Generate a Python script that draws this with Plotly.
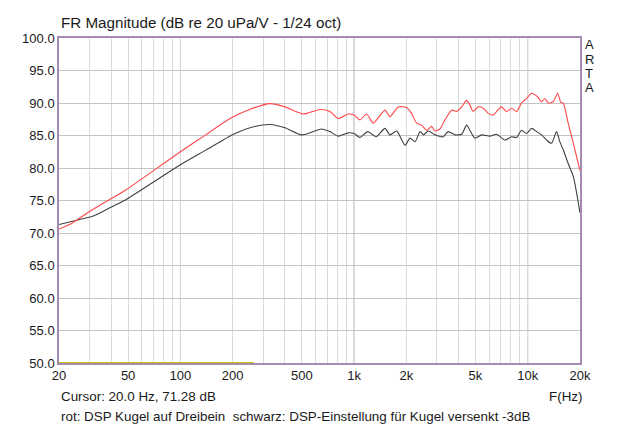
import plotly.graph_objects as go

# ---- data ----
red_f = [20, 23, 30, 40, 49, 70, 100, 140, 193, 250, 328, 400, 510, 636, 726, 811, 926, 1000,
         1081, 1181, 1290, 1506, 1609, 1797, 2007, 2145, 2292, 2449, 2617, 2797, 2922, 3122,
         3337, 3645, 3895, 4162, 4447, 4645, 4856, 5188, 5544, 5924, 6331, 6765, 7070, 7554,
         8072, 8626, 9218, 9849, 10525, 11246, 12018, 12560, 13125, 14030, 14860, 15530,
         16010, 17100, 18700, 20000]
red_db = [70.6, 71.3, 73.3, 75.3, 76.7, 79.6, 82.5, 85.1, 87.6, 89.0, 89.9, 89.4, 88.3, 89.0,
          88.7, 87.6, 88.3, 88.15, 87.4, 88.3, 86.9, 88.9, 87.9, 89.4, 89.3, 88.4, 86.9, 86.6,
          85.8, 86.4, 85.7, 86.0, 87.4, 88.9, 88.7, 89.4, 90.4, 89.7, 88.7, 89.4, 89.2, 88.4,
          88.15, 89.0, 89.4, 88.7, 89.2, 88.7, 90.0, 90.7, 91.5, 91.1, 90.2, 90.7, 90.0, 90.2,
          91.5, 90.05, 90.0, 86.9, 82.8, 79.6]

black_f = [20, 23, 31.5, 40, 49, 70, 100, 140, 202, 260, 328, 400, 499, 650, 726, 811, 926,
           1000, 1081, 1200, 1340, 1506, 1609, 1760, 1965, 2100, 2245, 2400, 2510, 2680, 2922,
           3260, 3480, 3810, 4162, 4447, 4645, 4960, 5430, 6050, 6620, 7390, 8072, 8626, 9218,
           9849, 10525, 11246, 12018, 12840, 13720, 14660, 15300, 16010, 17100, 18300, 20000]
black_db = [71.3, 71.7, 72.6, 74.0, 75.2, 77.85, 80.5, 82.75, 85.2, 86.3, 86.7, 86.2, 85.1,
            86.0, 85.6, 84.9, 85.4, 85.3, 84.7, 85.6, 84.8, 86.1, 85.1, 85.7, 83.5, 84.6, 84.05,
            85.6, 85.1, 85.7, 85.1, 84.8, 85.6, 85.1, 85.2, 86.6, 85.8, 84.6, 85.1, 84.9, 85.2,
            84.3, 84.8, 84.7, 85.8, 85.3, 86.1, 85.6, 85.1, 84.3, 83.8, 85.6, 84.05, 82.8, 80.7,
            78.7, 73.1]

yellow_f = [20, 265]
yellow_db = [50, 50]

grid_f = [20, 30, 40, 50, 60, 70, 80, 90, 100, 200, 300, 400, 500, 600, 700, 800, 900, 1000,
          2000, 3000, 4000, 5000, 6000, 7000, 8000, 9000, 10000, 20000]
label_f = {20: "20", 50: "50", 100: "100", 200: "200", 500: "500", 1000: "1k", 2000: "2k",
           5000: "5k", 10000: "10k", 20000: "20k"}
decades = [100, 1000, 10000]
y_ticks = [50, 55, 60, 65, 70, 75, 80, 85, 90, 95, 100]
side_letters = ["A", "R", "T", "A"]

FONT = "Liberation Sans, Arial, sans-serif"
TXT = "#1a1a1a"
BORDER = "#a68ab0"

fig = go.Figure()
fig.add_trace(go.Scatter(x=yellow_f, y=yellow_db, mode="lines",
                         line=dict(color="#c8c400", width=2), cliponaxis=False,
                         hoverinfo="skip"))
fig.add_trace(go.Scatter(x=black_f, y=black_db, mode="lines",
                         line=dict(color="#404040", width=1.1, shape="spline", smoothing=0.6)))
fig.add_trace(go.Scatter(x=red_f, y=red_db, mode="lines",
                         line=dict(color="#ff4848", width=1.1, shape="spline", smoothing=0.6)))

for d in decades:
    fig.add_shape(type="line", xref="x", yref="paper", x0=d, x1=d, y0=0, y1=1,
                  line=dict(color="#a8a8a8", width=1), layer="below")

fig.update_xaxes(type="log", range=[1.30103, 4.30103],
                 tickvals=grid_f, ticktext=[label_f.get(v, "") for v in grid_f],
                 showgrid=True, gridcolor="#dadada", gridwidth=1,
                 showline=True, mirror=True, linecolor=BORDER, linewidth=1.5,
                 ticks="", tickfont=dict(family=FONT, size=13, color=TXT),
                 zeroline=False)
fig.update_yaxes(range=[50, 100], tickvals=y_ticks,
                 ticktext=[f"{v:.1f}" for v in y_ticks],
                 showgrid=True, gridcolor="#c4c4c4", gridwidth=1,
                 showline=True, mirror=True, linecolor=BORDER, linewidth=1.5,
                 ticks="", tickfont=dict(family=FONT, size=13, color=TXT),
                 zeroline=False)

annos = [
    dict(text="FR Magnitude (dB re 20 uPa/V - 1/24 oct)", xref="paper", yref="paper",
         x=0, y=1.049, xanchor="left", yanchor="middle", showarrow=False,
         font=dict(size=15.2, family=FONT, color=TXT)),
    dict(text="Cursor: 20.0 Hz, 71.28 dB", xref="paper", yref="paper",
         x=0, y=-0.1046, xanchor="left", yanchor="middle", showarrow=False,
         font=dict(size=13.4, family=FONT, color=TXT)),
    dict(text="F(Hz)", xref="paper", yref="paper",
         x=0.973, y=-0.1046, xanchor="center", yanchor="middle", showarrow=False,
         font=dict(size=13.4, family=FONT, color=TXT)),
    dict(text="rot: DSP Kugel auf Dreibein  schwarz: DSP-Einstellung für Kugel versenkt -3dB",
         xref="paper", yref="paper", x=0, y=-0.166, xanchor="left", yanchor="middle",
         showarrow=False, font=dict(size=13.4, family=FONT, color=TXT)),
]
for i, ch in enumerate(side_letters):
    py = 45 + i * 14.3
    annos.append(dict(text=ch, xref="paper", yref="paper", x=1.006, y=(363 - py) / 325,
                      xanchor="left", yanchor="middle", showarrow=False,
                      font=dict(size=13, family=FONT, color=TXT)))

fig.update_layout(
    width=640, height=425,
    margin=dict(l=59, r=60, t=38, b=62),
    paper_bgcolor="white", plot_bgcolor="white",
    showlegend=False,
    font=dict(family=FONT, color=TXT),
    annotations=annos,
)

fig.write_html("out.html")
